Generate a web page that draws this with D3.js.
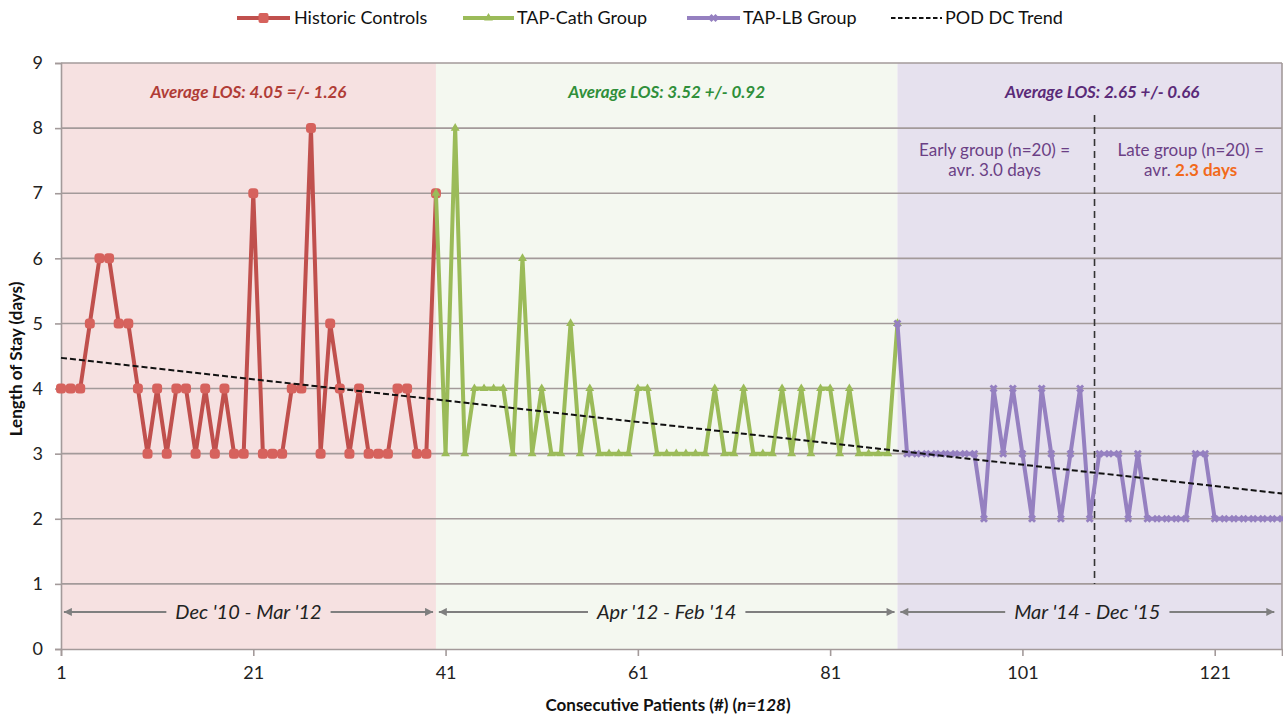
<!DOCTYPE html>
<html><head><meta charset="utf-8">
<script src="https://cdn.jsdelivr.net/npm/d3@7"></script>
<style>
body{margin:0;background:#fff;}
text{font-family:Lato,"Open Sans",sans-serif;}
</style></head>
<body><svg id="chart" width="1283" height="717"></svg>
<script>
// ---- data ----
const historicStart = 1;
const historicLOS = [4,4,4,5,6,6,5,5,4,3, 4,3,4,4,3,4,3,4,3,3, 7,3,3,3,4,4,8,3,5,4, 3,4,3,3,3,4,4,3,3,7];
const tapCathStart = 41;
const tapCathLOS = [3,8,3,4,4,4,4,3,6,3, 4,3,3,5,3,4,3,3,3,3, 4,4,3,3,3,3,3,3,4,3, 3,4,3,3,3,4,3,4,3,4, 4,3,4,3,3,3,3,5];
const tapLBStart = 89;
const tapLBLOS = [3,3,3,3,3,3,3,3,2,4, 3,4,3,2,4,3,2,3,4,2, 3,3,3,2,3,2,2,2,2,2, 3,3,2,2,2,2,2,2,2,2];
const yTicks = [0,1,2,3,4,5,6,7,8,9];
const xTicks = [1,21,41,61,81,101,121];
const seriesNames = ["Historic Controls","TAP-Cath Group","TAP-LB Group","POD DC Trend"];
const periodLabels = ["Dec '10 - Mar '12","Apr '12 - Feb '14","Mar '14 - Dec '15"];
const avgLabels = ["Average LOS: 4.05 =/- 1.26","Average LOS: 3.52 +/- 0.92","Average LOS: 2.65 +/- 0.66"];
const splitPatient = 108.5;

// ---- build series ----
const hist = historicLOS.map((v,i)=>({x:historicStart+i,y:v}));
const cath = tapCathLOS.map((v,i)=>({x:tapCathStart+i,y:v}));
const lb = tapLBLOS.map((v,i)=>({x:tapLBStart+i,y:v}));
const cathLine = [hist[hist.length-1]].concat(cath);
const lbLine = [cath[cath.length-1]].concat(lb);
const all = hist.concat(cath, lb);
const mx = d3.mean(all,d=>d.x), my = d3.mean(all,d=>d.y);
const slope = d3.sum(all,d=>(d.x-mx)*(d.y-my))/d3.sum(all,d=>(d.x-mx)*(d.x-mx));
const icpt = my - slope*mx;
const xMin = 1, xMax = 128;
const trend = [{x:xMin,y:icpt+slope*xMin},{x:xMax,y:icpt+slope*xMax}];

const svg = d3.select("#chart");
const L=61, R=1282, T=63, B=649;
const x = d3.scaleLinear().domain([xMin,xMax]).range([L,R]);
const y = d3.scaleLinear().domain([0,9]).range([B,T]);

const red="#c0504d", redM="#d6625d", green="#9bbb59", purple="#9580c0";
const gridCol="#a39a9a";

// shaded regions
const regions = [
  {a:xMin,b:hist[hist.length-1].x,fill:"#f6e1e1"},
  {a:hist[hist.length-1].x,b:cath[cath.length-1].x,fill:"#f4f8f0"},
  {a:cath[cath.length-1].x,b:xMax,fill:"#e6e1ee"}
];
svg.selectAll("rect.reg").data(regions).join("rect")
  .attr("x",d=>x(d.a)).attr("y",T).attr("width",d=>x(d.b)-x(d.a)).attr("height",B-T)
  .attr("fill",d=>d.fill);

// grid lines
svg.append("g").selectAll("line").data(yTicks.filter(t=>t>0)).join("line")
  .attr("x1",L).attr("x2",R).attr("y1",d=>y(d)).attr("y2",d=>y(d))
  .attr("stroke",gridCol).attr("stroke-width",1.6);

// axes
const ya = svg.append("g").attr("transform",`translate(${L},0)`)
  .call(d3.axisLeft(y).tickValues(yTicks).tickSize(6).tickPadding(12));
ya.select(".domain").attr("stroke",gridCol).attr("stroke-width",1.6);
ya.selectAll(".tick line").attr("stroke",gridCol).attr("stroke-width",1.6);
ya.selectAll("text").attr("font-size",18).attr("fill","#222").attr("font-family","Lato");

const xa = svg.append("g").attr("transform",`translate(0,${B})`)
  .call(d3.axisBottom(x).tickValues(xTicks).tickSize(7).tickPadding(10));
xa.select(".domain").attr("stroke",gridCol).attr("stroke-width",1.6);
xa.selectAll(".tick line").attr("stroke",gridCol).attr("stroke-width",1.6);
xa.selectAll("text").attr("font-size",18).attr("fill","#222").attr("font-family","Lato");
svg.append("line").attr("x1",R).attr("x2",R).attr("y1",T).attr("y2",B).attr("stroke",gridCol).attr("stroke-width",1.6);

// split line
svg.append("line").attr("x1",x(splitPatient)).attr("x2",x(splitPatient))
  .attr("y1",y(8.2)).attr("y2",y(1)).attr("stroke","#333").attr("stroke-width",1.6)
  .attr("stroke-dasharray","7,5");

// period arrows
const defs = svg.append("defs");
defs.append("marker").attr("id","ah").attr("viewBox","0 0 10 10").attr("refX",10).attr("refY",5)
  .attr("markerWidth",5).attr("markerHeight",4).attr("orient","auto-start-reverse").attr("markerUnits","strokeWidth")
  .append("path").attr("d","M0,0 L10,5 L0,10 z").attr("fill","#7f7f7f");
const periods = [
  {a:xMin+0.3,b:hist[hist.length-1].x-0.3,label:periodLabels[0]},
  {a:hist[hist.length-1].x+0.3,b:cath[cath.length-1].x-0.3,label:periodLabels[1]},
  {a:cath[cath.length-1].x+0.3,b:xMax-0.8,label:periodLabels[2]}
];
const ay = y(0.57);
periods.forEach(p=>{
  const cx=(x(p.a)+x(p.b))/2;
  const t = svg.append("text").attr("x",cx).attr("y",ay+7).attr("text-anchor","middle")
    .attr("font-size",20).attr("font-style","italic").attr("fill","#222").text(p.label);
  const w = t.node().getComputedTextLength();
  svg.append("line").attr("x1",cx-w/2-9).attr("x2",x(p.a)).attr("y1",ay).attr("y2",ay)
    .attr("stroke","#7f7f7f").attr("stroke-width",2).attr("marker-end","url(#ah)");
  svg.append("line").attr("x1",cx+w/2+9).attr("x2",x(p.b)).attr("y1",ay).attr("y2",ay)
    .attr("stroke","#7f7f7f").attr("stroke-width",2).attr("marker-end","url(#ah)");
});

// average labels
const avgCols = ["#b03c36","#2f8f3a","#5a2a78"];
const avgX = [ (x(xMin)+x(40))/2 , (x(40)+x(88))/2 , x(109.3) ];
avgLabels.forEach((t,i)=>{
  svg.append("text").attr("x",avgX[i]).attr("y",y(8.55)+6).attr("text-anchor","middle")
    .attr("font-size",17).attr("font-weight","bold").attr("font-style","italic")
    .attr("fill",avgCols[i]).text(t);
});
// early / late
const subCol="#6b3f85";
const ex=x(98.1), lx=x(118.5);
svg.append("text").attr("x",ex).attr("y",y(7.68)+7).attr("text-anchor","middle").attr("font-size",17).attr("fill",subCol).text("Early group (n=20) =");
svg.append("text").attr("x",ex).attr("y",y(7.37)+7).attr("text-anchor","middle").attr("font-size",17).attr("fill",subCol).text("avr. 3.0 days");
svg.append("text").attr("x",lx).attr("y",y(7.68)+7).attr("text-anchor","middle").attr("font-size",17).attr("fill",subCol).text("Late group (n=20) =");
const lt = svg.append("text").attr("x",lx).attr("y",y(7.37)+7).attr("text-anchor","middle").attr("font-size",17).attr("fill",subCol);
lt.append("tspan").text("avr. ");
lt.append("tspan").attr("fill","#f26a1b").attr("font-weight","bold").text("2.3 days");

// series lines
const line = d3.line().x(d=>x(d.x)).y(d=>y(d.y));
svg.append("path").datum(hist).attr("d",line).attr("fill","none").attr("stroke",red).attr("stroke-width",4).attr("stroke-linejoin","round");
svg.selectAll("rect.hm").data(hist).join("rect").attr("class","hm")
  .attr("x",d=>x(d.x)-5).attr("y",d=>y(d.y)-5).attr("width",10).attr("height",10).attr("rx",3.5)
  .attr("fill",redM);

svg.append("path").datum(cathLine).attr("d",line).attr("fill","none").attr("stroke",green).attr("stroke-width",4).attr("stroke-linejoin","round");
const tri = d3.symbol().type(d3.symbolTriangle).size(34);
svg.selectAll("path.cm").data(cath).join("path").attr("class","cm")
  .attr("transform",d=>`translate(${x(d.x)},${y(d.y)})`).attr("d",tri).attr("fill",green);
svg.append("path").attr("transform",`translate(${x(hist[hist.length-1].x)},${y(hist[hist.length-1].y)})`).attr("d",tri).attr("fill",green);

svg.append("path").datum(lbLine).attr("d",line).attr("fill","none").attr("stroke",purple).attr("stroke-width",4).attr("stroke-linejoin","round");
const xs = d3.symbol().type(d3.symbolCross).size(40);
svg.selectAll("path.lm").data(lb).join("path").attr("class","lm")
  .attr("transform",d=>`translate(${x(d.x)},${y(d.y)}) rotate(45)`).attr("d",xs).attr("fill",purple);
svg.append("path").attr("transform",`translate(${x(cath[cath.length-1].x)},${y(cath[cath.length-1].y)}) rotate(45)`).attr("d",xs).attr("fill",purple);

// trend
svg.append("path").datum(trend).attr("d",line).attr("fill","none").attr("stroke","#111").attr("stroke-width",2).attr("stroke-dasharray","6,3");

// axis titles
svg.append("text").attr("transform",`translate(22,${(T+B)/2+3}) rotate(-90)`).attr("text-anchor","middle")
  .attr("font-size",17).attr("font-weight","bold").attr("fill","#111").text("Length of Stay (days)");
const xt = svg.append("text").attr("x",668).attr("y",711).attr("text-anchor","middle")
  .attr("font-size",17).attr("font-weight","bold").attr("fill","#111");
xt.append("tspan").text("Consecutive Patients (#) (");
xt.append("tspan").attr("font-style","italic").text("n=128");
xt.append("tspan").text(")");

// legend
const leg = [
  {name:seriesNames[0],x1:237,x2:290,tx:294,col:red,type:"sq"},
  {name:seriesNames[1],x1:463,x2:514,tx:517,col:green,type:"tri"},
  {name:seriesNames[2],x1:687,x2:740,tx:743,col:purple,type:"x"},
  {name:seriesNames[3],x1:891,x2:942,tx:945,col:"#111",type:"dash"}
];
const ly=18;
leg.forEach(l=>{
  const g=svg.append("g");
  if(l.type==="dash"){
    g.append("line").attr("x1",l.x1).attr("x2",l.x2).attr("y1",ly).attr("y2",ly).attr("stroke",l.col).attr("stroke-width",2).attr("stroke-dasharray","4.5,2.5");
  } else {
    g.append("line").attr("x1",l.x1).attr("x2",l.x2).attr("y1",ly).attr("y2",ly).attr("stroke",l.col).attr("stroke-width",4);
    const cx=(l.x1+l.x2)/2;
    if(l.type==="sq") g.append("rect").attr("x",cx-5).attr("y",ly-5).attr("width",10).attr("height",10).attr("rx",2).attr("fill",redM);
    if(l.type==="tri") g.append("path").attr("transform",`translate(${cx},${ly})`).attr("d",tri).attr("fill",l.col);
    if(l.type==="x") g.append("path").attr("transform",`translate(${cx},${ly}) rotate(45)`).attr("d",xs).attr("fill",l.col);
  }
  g.append("text").attr("x",l.tx).attr("y",ly+6).attr("font-size",18).attr("fill","#111").text(l.name);
});
</script></body></html>
